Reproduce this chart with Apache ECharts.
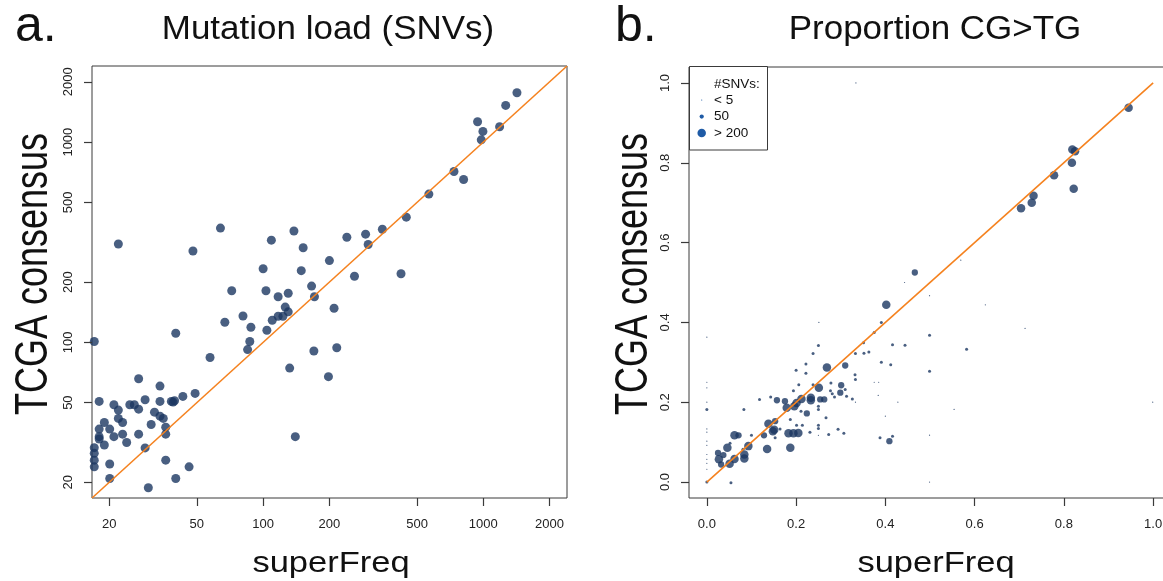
<!DOCTYPE html>
<html><head><meta charset="utf-8">
<script src="https://cdn.jsdelivr.net/npm/echarts@6/dist/echarts.min.js"></script>
<style>html,body{margin:0;padding:0;background:#fff;overflow:hidden}#c{width:1190px;height:581px}</style>
</head><body><div id="c"></div>
<script>
// ---------- data ----------
const mutTicks = [20, 50, 100, 200, 500, 1000, 2000];
const mutRange = [16.7, 2400];
const mutX = [1422,1264,942,996,1186,979,736,814,566,447,348,292,300,240,423,260,200,138,109,152,100,149,103,166,171,130,117,126,130,123,117,110,104,210,81,88,72,67,87,85,64,48,22,170,216,132,198,140,57.4,40.1,17.1,49.1,43.2,39.6,38.3,39,34,34,27.2,29.1,18,21,24.8,26,27.2,22,32.1,22,23,19,34,35.2,31,36.1,18,20.1,23,27.2,36.1,18,18,21,24,19,29.1,17.1,17.1,17.1,17.1,20.1,36.1,46.1,20.1,40.1,30.1];
const mutY = [1765,1525,1264,1131,1193,1027,713,651,550,422,367,347,308,335,220,214,256,360,324,297,233,228,181,191,169,176,169,150,142,135,135,129,115,148,135.5,119,181,126,101,92,372,286,310,90.5,94,74.4,67.4,33.8,84,111,101,55.6,53.7,51.1,50.7,50.3,60.5,50.7,65.8,51.7,50.7,48.8,48.8,48.8,46.4,45.9,44.8,41.7,39.8,39.8,42.8,41.7,38.9,37.7,36.9,36.9,34.8,34.8,34.8,33.8,32.9,33.8,31.6,30.7,29.7,29.8,27.9,25.8,23.9,24.7,25.8,23.9,20.9,20.9,18.8];

const cgTicks = [0, 0.2, 0.4, 0.6, 0.8, 1.0];
const cgRange = [-0.04, 1.04];
const cgX = [
 0.945,0.819,0.825,0.818,0.778,0.822,0.732,0.728,0.704,0.402,0.269,0.251,0.212,0.201,0.196,0.233,0.233,0.179,0.138,0.148,0.151,0.183,0.194,0.205,0.187,0.135,0.093,0.084,0.084,0.062,0.046,0.062,0.051,0.027,
 0.466,0.31,0.301,0.299,0.254,0.263,0.175,0.157,0.153,0.128,0.224,0.071,0.037,0.025,0.032,0.409,
 0.582,0.499,0.444,0.416,0.375,0.391,0.351,0.25,0.238,0.363,0.333,0.352,0.391,0.412,0.499,0.332,0.333,0.388,0.416,0.222,0.222,0.2,0.206,0.194,0.238,0.278,0.277,0.281,0.286,0.31,0.313,0.326,0.25,0.25,0.267,0.25,0.25,0.231,0.273,0.294,0.307,0.214,0.201,0.211,0.187,0.164,0.153,0.118,0.143,0.083,0.1,0.081,0.052,0,0.054,0,
 0.334,0.569,0.443,0.499,0.624,0.713,0.251,0.375,0.385,0.384,0.428,0.554,0.999,0.499,0.499,0.4,0.333,0.25,0,0,0,0,0,0,0,0,0,0,0,0];
const cgY = [
 0.938,0.833,0.829,0.8,0.769,0.735,0.7175,0.7,0.686,0.444,0.287,0.236,0.208,0.198,0.19,0.211,0.205,0.186,0.146,0.1275,0.131,0.122,0.122,0.123,0.086,0.083,0.09,0.069,0.059,0.117,0.086,0.058,0.046,0.057,
 0.525,0.292,0.2425,0.224,0.207,0.207,0.2025,0.205,0.1525,0.117,0.172,0.117,0.0675,0.073,0.044,0.1025,
 0.333,0.368,0.3425,0.344,0.375,0.4,0.349,0.342,0.322,0.326,0.322,0.323,0.3,0.294,0.2775,0.269,0.257,0.111,0.115,0.296,0.2725,0.28,0.244,0.229,0.244,0.248,0.229,0.221,0.213,0.232,0.215,0.208,0.19,0.182,0.161,0.142,0.134,0.125,0.119,0.132,0.122,0.142,0.142,0.1775,0.157,0.133,0.111,0.207,0.213,0.182,0.117,0.082,0.097,0,-0.002,0.182,
 1.0,0.556,0.5,0.467,0.444,0.385,0.4,0.25,0.25,0.217,0.2,0.182,0.2,0.1175,0,0.165,0.2,0.117,0.363,0.25,0.236,0.2,0.133,0.125,0.1025,0.092,0.069,0.057,0.047,0.032];
const cgSNV = [
 250,250,250,250,250,250,250,250,250,250,250,250,250,250,250,250,250,250,250,250,250,250,250,250,250,250,250,250,250,250,250,250,250,250,
 110,110,110,110,110,110,110,110,110,110,110,110,110,110,110,110,
 25,25,25,25,25,25,25,25,25,25,25,25,25,25,25,25,25,25,25,25,25,25,25,25,25,25,25,25,25,25,25,25,25,25,25,25,25,25,25,25,25,25,25,25,25,25,25,25,25,25,25,25,25,25,25,25,
 4,4,4,4,4,4,4,4,4,4,4,4,4,4,4,4,4,4,4,4,4,4,4,4,4,4,4,4,4,4];
const legendLabels = ['< 5', '50', '> 200'];
const legendSNV = [4, 50, 250];

// ---------- styling ----------
const FONT = '"Liberation Sans", Arial, Helvetica, sans-serif';
const POINT = '#1c3762';
const LEGPOINT = '#1f5ba6';
const ORANGE = '#f5821f';
const AXIS = '#3a3a3a';
const sizeOf = n => 8.5 * Math.min(1, Math.sqrt(n / 200));

function axisCommon(ticks, rotate, margin, fmt) {
  return {
    z: 10,
    axisLine: {show: false, onZero: false},
    splitLine: {show: false},
    axisTick: {show: true, length: 8, customValues: ticks, lineStyle: {color: AXIS, width: 1.2}},
    axisLabel: {customValues: ticks, rotate: rotate, margin: margin, fontSize: 13, color: '#222', formatter: fmt}
  };
}

const chart = echarts.init(document.getElementById('c'));
const option = {
  animation: false,
  textStyle: {fontFamily: FONT},
  grid: [
    {left: 92, top: 66, width: 475, height: 432, show: true, borderColor: AXIS, borderWidth: 1},
    {left: 689, top: 67, width: 482, height: 431, show: true, borderColor: AXIS, borderWidth: 1}
  ],
  xAxis: [
    Object.assign({gridIndex: 0, type: 'log', min: mutRange[0], max: mutRange[1]}, axisCommon(mutTicks, 0, 20, v => String(v))),
    Object.assign({gridIndex: 1, type: 'value', min: cgRange[0], max: cgRange[1]}, axisCommon(cgTicks, 0, 20, v => v.toFixed(1)))
  ],
  yAxis: [
    Object.assign({gridIndex: 0, type: 'log', min: mutRange[0], max: mutRange[1]}, axisCommon(mutTicks, 90, 17, v => String(v))),
    Object.assign({gridIndex: 1, type: 'value', min: cgRange[0], max: cgRange[1]}, axisCommon(cgTicks, 90, 17, v => v.toFixed(1)))
  ],
  series: [
    {type: 'scatter', xAxisIndex: 0, yAxisIndex: 0, data: mutX.map((x, i) => [x, mutY[i]]),
     symbolSize: 9, itemStyle: {color: POINT}},
    {type: 'line', xAxisIndex: 0, yAxisIndex: 0, data: [[mutRange[0], mutRange[0]], [mutRange[1], mutRange[1]]],
     symbol: 'none', lineStyle: {color: ORANGE, width: 1.6}, silent: true},
    {type: 'scatter', xAxisIndex: 1, yAxisIndex: 1, data: cgX.map((x, i) => [x, cgY[i], cgSNV[i]]),
     symbolSize: v => sizeOf(v[2]), itemStyle: {color: POINT}},
    {type: 'line', xAxisIndex: 1, yAxisIndex: 1, data: [[0, 0], [1, 1]],
     symbol: 'none', lineStyle: {color: ORANGE, width: 1.6}, silent: true}
  ],
  graphic: [
    {type: 'text', x: 15, y: 27.5, style: {text: 'a.', font: '50px ' + FONT, fill: '#111', textAlign: 'left', verticalAlign: 'middle'}},
    {type: 'text', x: 615, y: 27.5, style: {text: 'b.', font: '50px ' + FONT, fill: '#111', textAlign: 'left', verticalAlign: 'middle'}},
    {type: 'text', x: 328, y: 30, scaleX: 1.06, style: {text: 'Mutation load (SNVs)', font: '33px ' + FONT, fill: '#111', textAlign: 'center', verticalAlign: 'middle'}},
    {type: 'text', x: 935, y: 30, scaleX: 1.06, style: {text: 'Proportion CG>TG', font: '33px ' + FONT, fill: '#111', textAlign: 'center', verticalAlign: 'middle'}},
    {type: 'text', x: 331, y: 564, scaleX: 1.15, style: {text: 'superFreq', font: '30px ' + FONT, fill: '#111', textAlign: 'center', verticalAlign: 'middle'}},
    {type: 'text', x: 936, y: 564, scaleX: 1.15, style: {text: 'superFreq', font: '30px ' + FONT, fill: '#111', textAlign: 'center', verticalAlign: 'middle'}},
    {type: 'text', x: 34, y: 274, rotation: Math.PI / 2, scaleY: 1.3, style: {text: 'TCGA consensus', font: '36px ' + FONT, fill: '#111', textAlign: 'center', verticalAlign: 'middle'}},
    {type: 'text', x: 634, y: 274, rotation: Math.PI / 2, scaleY: 1.3, style: {text: 'TCGA consensus', font: '36px ' + FONT, fill: '#111', textAlign: 'center', verticalAlign: 'middle'}},
    {type: 'rect', z: 10, shape: {x: 689.5, y: 66.5, width: 78, height: 83.5}, style: {fill: '#fff', stroke: AXIS, lineWidth: 1}},
    {type: 'text', z: 11, x: 714, y: 84, style: {text: '#SNVs:', font: '13.5px ' + FONT, fill: '#111', textAlign: 'left', verticalAlign: 'middle'}}
  ].concat(legendLabels.flatMap((lab, i) => [
    {type: 'circle', z: 11, shape: {cx: 701.7, cy: 100 + i * 16.5, r: sizeOf(legendSNV[i]) / 2}, style: {fill: LEGPOINT}},
    {type: 'text', z: 11, x: 714, y: 100 + i * 16.5, style: {text: lab, font: '13.5px ' + FONT, fill: '#111', textAlign: 'left', verticalAlign: 'middle'}}
  ]))
};
chart.setOption(option);
</script>
</body></html>
